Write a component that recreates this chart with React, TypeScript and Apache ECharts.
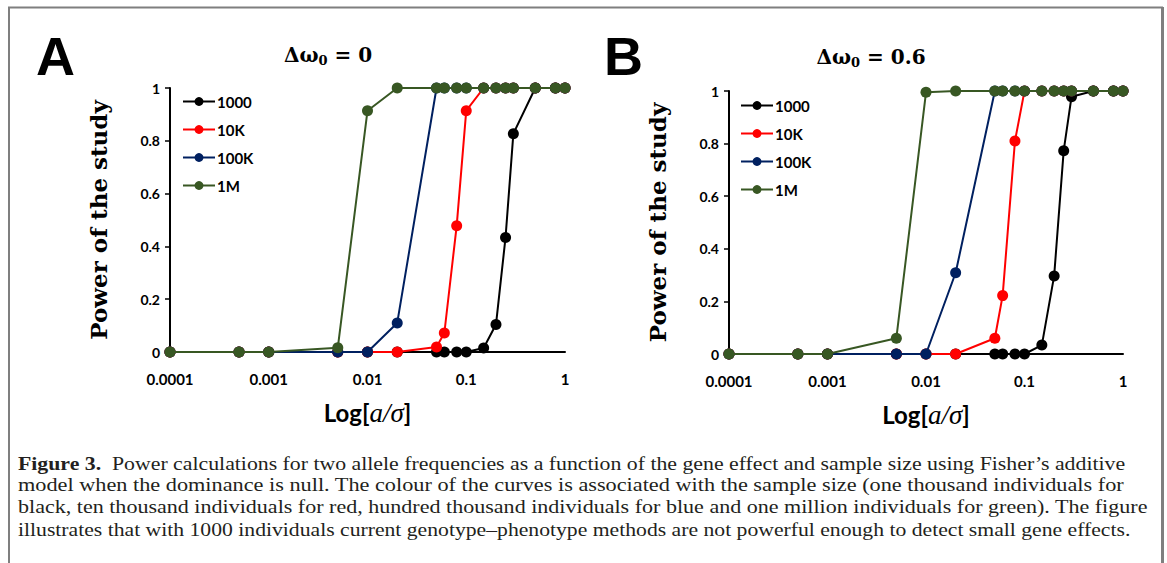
import { useEffect, useRef } from "react";
import * as echarts from "echarts";

const xValues = [0.0001, 0.0005, 0.001, 0.005, 0.01, 0.02, 0.05, 0.06, 0.08, 0.1, 0.15, 0.2, 0.25, 0.3, 0.5, 0.8, 1];
const seriesNames = ["1000", "10K", "100K", "1M"];
const seriesColors = ["#000000", "#ff0000", "#002060", "#385723"];

// Panel A: Δω0 = 0
const a1000 = [0, 0, 0, 0, 0, 0, 0, 0, 0, 0, 0.015, 0.104, 0.434, 0.827, 1, 1, 1];
const a10K = [0, 0, 0, 0, 0, 0, 0.019, 0.072, 0.478, 0.914, 1, 1, 1, 1, 1, 1, 1];
const a100K = [0, 0, 0, 0, 0, 0.11, 1, 1, 1, 1, 1, 1, 1, 1, 1, 1, 1];
const a1M = [0, 0, 0, 0.016, 0.914, 1, 1, 1, 1, 1, 1, 1, 1, 1, 1, 1, 1];

// Panel B: Δω0 = 0.6
const b1000 = [0, 0, 0, 0, 0, 0, 0, 0, 0, 0, 0.034, 0.297, 0.773, 0.978, 1, 1, 1];
const b10K = [0, 0, 0, 0, 0, 0, 0.06, 0.222, 0.81, 1, 1, 1, 1, 1, 1, 1, 1];
const b100K = [0, 0, 0, 0, 0, 0.309, 1, 1, 1, 1, 1, 1, 1, 1, 1, 1, 1];
const b1M = [0, 0, 0, 0.06, 0.995, 1, 1, 1, 1, 1, 1, 1, 1, 1, 1, 1, 1];

const panelTitles = ["0", "0.6"];
const panelLetters = ["A", "B"];
const yTitle = "Power of the study";

const captionLabel = "Figure 3.";
const captionLines = [
  "Power calculations for two allele frequencies as a function of the gene effect and sample size using Fisher\u2019s additive",
  "model when the dominance is null. The colour of the curves is associated with the sample size (one thousand individuals for",
  "black, ten thousand individuals for red, hundred thousand individuals for blue and one million individuals for green). The figure",
  "illustrates that with 1000 individuals current genotype\u2013phenotype methods are not powerful enough to detect small gene effects.",
];

const SANS = "Lato, 'Open Sans', sans-serif";
const SERIF = "'Liberation Serif', 'DejaVu Serif', serif";
const WSERIF = "'DejaVu Serif', 'Liberation Serif', serif";

export default function App() {
  const ref = useRef<HTMLDivElement>(null);
  useEffect(() => {
    if (!ref.current) return;
    const chart = echarts.init(ref.current, undefined, { renderer: "svg" });
    const panels = [
      [a1000, a10K, a100K, a1M],
      [b1000, b10K, b100K, b1M],
    ];
    const grids = [
      { left: 170, right: 602, top: 88, bottom: 211 },
      { left: 729, right: 44, top: 91, bottom: 209 },
    ];
    const xAxes = grids.map((_, i) => ({
      type: "log" as const,
      logBase: 10,
      gridIndex: i,
      min: 0.0001,
      max: 1,
      splitLine: { show: false },
      axisTick: { show: false },
      axisLine: { lineStyle: { color: "#000", width: 2 } },
      axisLabel: {
        margin: 19,
        color: "#000",
        fontFamily: SANS,
        fontWeight: "bold" as const,
        fontSize: 15,
        formatter: (v: number) => String(parseFloat(v.toPrecision(6))),
      },
      name: "{n|Log[}{m|a/σ}{n|]}",
      nameLocation: "middle" as const,
      nameGap: 47,
      nameTextStyle: {
        rich: {
          n: { fontFamily: SANS, fontWeight: "bold", fontSize: 24, color: "#000" },
          m: { fontFamily: SERIF, fontStyle: "italic", fontSize: 27, color: "#000" },
        },
      },
    }));
    const yAxes = grids.map((_, i) => ({
      type: "value" as const,
      gridIndex: i,
      min: 0,
      max: 1,
      interval: 0.2,
      splitLine: { show: false },
      axisLine: { show: true, lineStyle: { color: "#000", width: 2 } },
      axisTick: { show: true, length: 5, lineStyle: { color: "#000", width: 1.5 } },
      axisLabel: {
        margin: 10,
        color: "#000",
        fontFamily: SANS,
        fontWeight: "bold" as const,
        fontSize: 14,
      },
      name: yTitle,
      nameLocation: "middle" as const,
      nameGap: 60,
      nameTextStyle: { fontFamily: WSERIF, fontWeight: "bold" as const, fontSize: 23, color: "#000" },
    }));
    const series: any[] = [];
    panels.forEach((vals, p) => {
      vals.forEach((arr, s) => {
        series.push({
          type: "line",
          name: seriesNames[s],
          xAxisIndex: p,
          yAxisIndex: p,
          data: xValues.map((x, k) => [x, arr[k]]),
          symbol: "circle",
          symbolSize: 11,
          showSymbol: true,
          color: seriesColors[s],
          lineStyle: { width: 2, color: seriesColors[s] },
          itemStyle: { color: seriesColors[s] },
          z: 2 + s,
        });
      });
    });
    const legends = [
      { left: 177, top: 89 },
      { left: 735, top: 93 },
    ].map((pos) => ({
      ...pos,
      orient: "vertical" as const,
      data: seriesNames,
      itemWidth: 32,
      itemHeight: 11,
      itemGap: 13,
      selectedMode: false,
      textStyle: { fontFamily: SANS, fontWeight: "bold" as const, fontSize: 15, color: "#000", padding: [0, 0, 0, -3] },
    }));
    const titleRich = {
      a: { fontFamily: WSERIF, fontWeight: "bold", fontSize: 20, color: "#000" },
      s: { fontFamily: WSERIF, fontWeight: "bold", fontSize: 13, color: "#000", padding: [11, 0, 0, 0] },
    };
    const titles = [
      { left: 323, top: 38 },
      { left: 866, top: 40 },
    ].map((pos, i) => ({
      left: pos.left,
      top: pos.top,
      textAlign: "center" as const,
      text: `{a|Δω}{s|0}{a| = ${panelTitles[i]}}`,
      textStyle: { rich: titleRich },
    }));
    const graphic: any[] = [
      { type: "line", shape: { x1: 8, y1: 7.5, x2: 1163, y2: 7.5 }, style: { stroke: "#7f7f7f", lineWidth: 2 } },
      { type: "line", shape: { x1: 9, y1: 7, x2: 9, y2: 563 }, style: { stroke: "#7f7f7f", lineWidth: 2 } },
      { type: "line", shape: { x1: 1162.5, y1: 7, x2: 1162.5, y2: 563 }, style: { stroke: "#7f7f7f", lineWidth: 3 } },
      {
        type: "text",
        left: 36,
        top: 29,
        style: { text: panelLetters[0], fontFamily: "'Liberation Sans', Arial, sans-serif", fontWeight: "bold", fontSize: 54, fill: "#000" },
      },
      {
        type: "text",
        left: 604,
        top: 29,
        style: { text: panelLetters[1], fontFamily: "'Liberation Sans', Arial, sans-serif", fontWeight: "bold", fontSize: 54, fill: "#000" },
      },
    ];
    // caption: measure each line so that it spans the same width as in the printed figure
    const capSize = 19;
    const capLeft = 18;
    const capRight = [1125, 1125, 1148, 1131];
    const ctx = document.createElement("canvas").getContext("2d");
    const measure = (t: string, bold: boolean) => {
      if (!ctx) return t.length * capSize * 0.45;
      ctx.font = `${bold ? "bold " : ""}${capSize}px 'Liberation Serif'`;
      return ctx.measureText(t).width;
    };
    captionLines.forEach((line, i) => {
      const full = i === 0 ? `  ${line}` : line;
      const w = measure(full, false) + (i === 0 ? measure(captionLabel, true) : 0);
      const sx = (capRight[i] - capLeft) / w;
      graphic.push({
        type: "text",
        x: capLeft,
        y: 463 + i * 22,
        scaleX: sx,
        style: {
          text: i === 0 ? `{b|${captionLabel}}${full}` : full,
          fontFamily: SERIF,
          fontSize: capSize,
          fill: "#231f20",
          verticalAlign: "middle",
          rich: i === 0 ? { b: { fontFamily: SERIF, fontWeight: "bold", fontSize: capSize, fill: "#231f20" } } : undefined,
        },
      });
    });
    chart.setOption({
      animation: false,
      backgroundColor: "#fff",
      title: titles,
      grid: grids,
      xAxis: xAxes,
      yAxis: yAxes,
      legend: legends,
      series,
      graphic,
    });
    return () => chart.dispose();
  }, []);
  return <div ref={ref} style={{ position: "absolute", left: 0, top: 0, width: 1167, height: 563 }} />;
}
